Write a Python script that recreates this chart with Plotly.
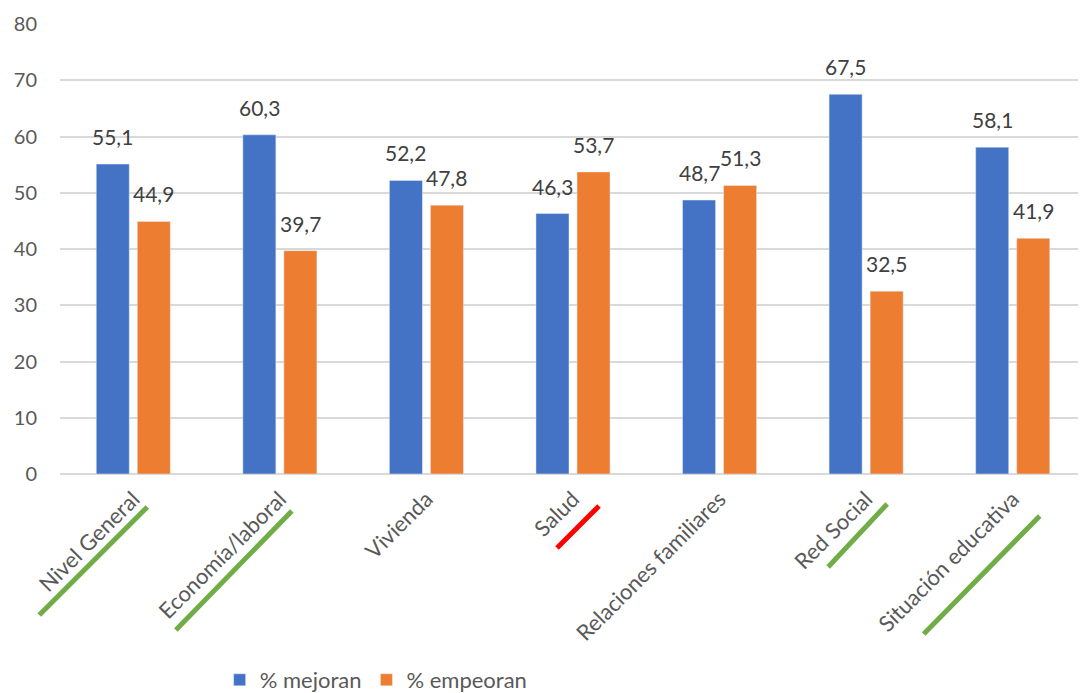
import plotly.graph_objects as go

categories = ["Nivel General", "Economía/laboral", "Vivienda", "Salud",
              "Relaciones familiares", "Red Social", "Situación educativa"]
mejoran = [55.1, 60.3, 52.2, 46.3, 48.7, 67.5, 58.1]
empeoran = [44.9, 39.7, 47.8, 53.7, 51.3, 32.5, 41.9]
y_ticks = [0, 10, 20, 30, 40, 50, 60, 70, 80]

# underline decorations: (category, color, x0, y0, x1, y1) pixel offsets from category tick at y=0
underlines = [
    ("Nivel General", "#70AD47", -94, -141, 14, -33),
    ("Economía/laboral", "#70AD47", -104, -156, 12, -37),
    ("Salud", "#FF0000", -16, -74, 26, -32),
    ("Red Social", "#70AD47", -38, -93, 21, -30),
    ("Situación educativa", "#70AD47", -89, -160, 27, -42),
]

def fmt(v):
    return f"{v:.1f}".replace(".", ",")

FONT = "Lato, Open Sans, sans-serif"
n = len(categories)

fig = go.Figure()
fig.add_trace(go.Bar(x=categories, y=mejoran, name="% mejoran", marker_color="#4472C4"))
fig.add_trace(go.Bar(x=categories, y=empeoran, name="% empeoran", marker_color="#ED7D31"))

for series, shift in ((mejoran, -20.5), (empeoran, 20.5)):
    for cat, v in zip(categories, series):
        fig.add_annotation(x=cat, y=v, xref="x", yref="y", text=fmt(v),
                           showarrow=False, xshift=shift, yshift=13,
                           yanchor="bottom", xanchor="center",
                           font=dict(size=21, color="#404040", family=FONT))

for cat, col, x0, y0, x1, y1 in underlines:
    idx = categories.index(cat)
    fig.add_shape(
        type="line", xref="paper", yref="paper",
        xsizemode="pixel", ysizemode="pixel",
        xanchor=(idx + 0.5) / n, yanchor=0,
        x0=x0, x1=x1, y0=y0, y1=y1,
        line=dict(color=col, width=5),
    )

fig.update_layout(
    width=1086, height=693,
    margin=dict(l=52, r=8, t=16, b=227, autoexpand=False),
    paper_bgcolor="white", plot_bgcolor="white",
    barmode="group", bargap=0.44, bargroupgap=0.195,
    font=dict(family=FONT, color="#595959", size=20),
    showlegend=True,
    legend=dict(orientation="h", xref="container", x=0.339, xanchor="center",
                yref="container", y=0.0, yanchor="bottom",
                font=dict(size=22, color="#595959"), traceorder="normal",
                itemwidth=30),
)
fig.update_xaxes(tickangle=-45, showline=False, showgrid=False, ticks="",
                 automargin=False, ticklabelstandoff=7,
                 tickfont=dict(size=22, color="#595959"))
fig.update_yaxes(range=[0, 80], tickvals=y_ticks, showgrid=True,
                 gridcolor="#D9D9D9", gridwidth=1.5, zeroline=True,
                 zerolinecolor="#D9D9D9", zerolinewidth=1.5, automargin=False,
                 tickfont=dict(size=20, color="#595959"), ticks="",
                 ticklabelstandoff=22)

fig.write_html("out.html")
